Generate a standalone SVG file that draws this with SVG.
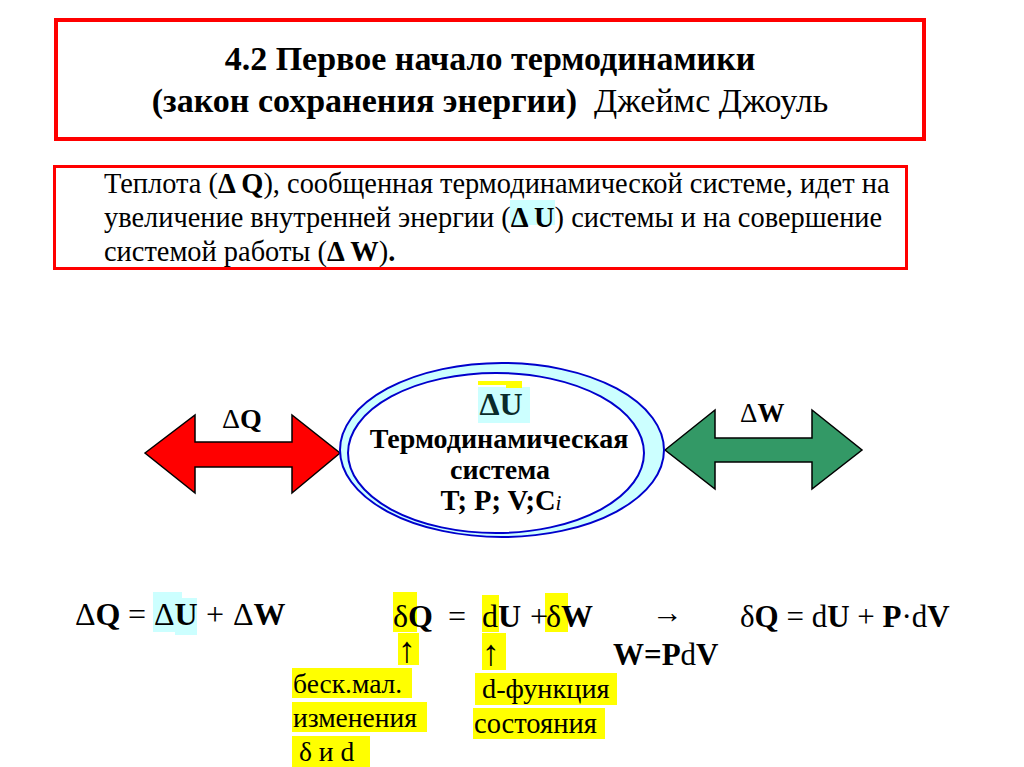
<svg xmlns="http://www.w3.org/2000/svg" width="1024" height="767" viewBox="0 0 1024 767">
<style>
.b{font-weight:bold}
.box{fill:none;stroke:#ff0000}
.hy{fill:#ffff00}
.hc{fill:#ccffff}
.arr{stroke:#000;stroke-width:1.5;stroke-linejoin:miter}
</style>
<rect width="1024" height="767" fill="#fff"/>
<g id="title">
<rect class="box" x="56" y="20" width="868" height="119" stroke-width="4"/>
<text font-family="Liberation Serif" x="490" y="70" font-size="34" text-anchor="middle" font-weight="bold">4.2 Первое начало термодинамики</text>
<text font-family="Liberation Serif" x="490" y="112" font-size="34" text-anchor="middle"><tspan font-family="Liberation Serif" font-weight="bold">(закон сохранения энергии)</tspan>&#160; Джеймс Джоуль</text>
</g>
<g id="statement">
<rect class="box" x="54.5" y="166.5" width="852" height="102" stroke-width="3"/>
<rect class="hc" x="510" y="200" width="45" height="25"/>
<text font-family="Liberation Serif" x="104" y="193" font-size="28.4">Теплота (<tspan font-family="Liberation Serif" font-weight="bold">Δ Q</tspan>), сообщенная термодинамической системе, идет на</text>
<text font-family="Liberation Serif" x="104" y="227" font-size="28.4">увеличение внутренней энергии (<tspan font-family="Liberation Serif" font-weight="bold">Δ U</tspan>) системы и на совершение</text>
<text font-family="Liberation Serif" x="104" y="261" font-size="28.4">системой работы (<tspan font-family="Liberation Serif" font-weight="bold">Δ W</tspan>)<tspan font-family="Liberation Serif" font-weight="bold">.</tspan></text>
</g>
<g id="connectors">
<polygon class="arr" fill="#ff0000" points="145,453 195,415 195,442 292,442 292,415 340,453 292,493 292,467 195,467 195,493"/>
<polygon class="arr" fill="#339966" points="665,450 715,410 715,438 812,438 812,410 862,450 812,489 812,462 715,462 715,489"/>
<text font-family="Liberation Serif" x="222" y="428" font-size="28">Δ<tspan font-family="Liberation Serif" font-weight="bold">Q</tspan></text>
<text font-family="Liberation Serif" x="740" y="422" font-size="27">Δ<tspan font-family="Liberation Serif" font-weight="bold">W</tspan></text>
</g>
<g id="system">
<ellipse cx="502" cy="450" rx="162" ry="87" fill="#ccffff" stroke="#0000cc" stroke-width="2"/>
<ellipse cx="496" cy="453" rx="148" ry="80" fill="#fff" stroke="#0000cc" stroke-width="2"/>
<rect class="hc" x="478" y="387" width="52" height="36"/>
<rect class="hy" x="478" y="381" width="28" height="4"/>
<rect class="hy" x="506" y="381" width="16" height="7"/>
<text font-family="Liberation Serif" x="501" y="415" font-size="32" text-anchor="middle" font-weight="bold" fill="#0a2a2a">ΔU</text>
<text font-family="Liberation Serif" x="499" y="448" font-size="28" text-anchor="middle" font-weight="bold">Термодинамическая</text>
<text font-family="Liberation Serif" x="500" y="479" font-size="28" text-anchor="middle" font-weight="bold">система</text>
<text font-family="Liberation Serif" x="501" y="510" font-size="28.5" text-anchor="middle" font-weight="bold">T; P; V;C<tspan font-family="Liberation Serif" font-style="italic" font-weight="normal" font-size="21">i</tspan></text>
</g>
<g id="eq1">
<rect class="hc" x="153" y="592" width="29" height="40"/>
<rect class="hc" x="175" y="598" width="22" height="37"/>
<text font-family="Liberation Serif" y="625" font-size="32"><tspan font-family="Liberation Serif" x="75">Δ</tspan><tspan font-family="Liberation Serif" font-weight="bold">Q</tspan><tspan font-family="Liberation Serif" x="128">=</tspan><tspan font-family="Liberation Serif" x="154">Δ</tspan><tspan font-family="Liberation Serif" font-weight="bold">U</tspan><tspan font-family="Liberation Serif" x="206">+</tspan><tspan font-family="Liberation Serif" x="233">Δ</tspan><tspan font-family="Liberation Serif" font-weight="bold">W</tspan></text>
</g>
<g id="eq2">
<rect class="hy" x="393" y="592" width="24" height="40"/>
<rect class="hy" x="482" y="595" width="17" height="37"/>
<rect class="hy" x="545" y="593" width="23" height="39"/>
<rect class="hy" x="398" y="633" width="21" height="32"/>
<rect class="hy" x="482" y="633" width="24" height="37"/>
<text font-family="Liberation Serif" y="627" font-size="32"><tspan font-family="Liberation Serif" x="393">δ</tspan><tspan font-family="Liberation Serif" font-weight="bold">Q</tspan><tspan font-family="Liberation Serif" x="448">=</tspan><tspan font-family="Liberation Serif" x="482">d</tspan><tspan font-family="Liberation Serif" font-weight="bold">U</tspan><tspan font-family="Liberation Serif" x="530">+</tspan><tspan font-family="Liberation Serif" x="546">δ</tspan><tspan font-family="Liberation Serif" font-weight="bold">W</tspan></text>
<text font-family="Liberation Serif" x="398" y="662" font-size="36">↑</text>
<text font-family="Liberation Serif" x="482" y="665" font-size="36">↑</text>
</g>
<g id="note1">
<rect class="hy" x="292" y="668" width="120" height="30"/>
<rect class="hy" x="292" y="702" width="135" height="30"/>
<rect class="hy" x="292" y="736" width="78" height="31"/>
<text font-family="Liberation Serif" x="293" y="693" font-size="27.5">беск.мал.</text>
<text font-family="Liberation Serif" x="293" y="727" font-size="27.5">изменения</text>
<text font-family="Liberation Serif" x="299" y="761" font-size="27.5">δ и d</text>
</g>
<g id="note2">
<rect class="hy" x="475" y="673" width="142" height="32"/>
<rect class="hy" x="473" y="708" width="132" height="31"/>
<text font-family="Liberation Serif" x="482" y="698" font-size="28.3">d-функция</text>
<text font-family="Liberation Serif" x="474" y="733" font-size="28.5">состояния</text>
</g>
<g id="eq3">
<text font-family="Liberation Serif" x="652" y="623" font-size="31">→</text>
<text font-family="Liberation Serif" x="740" y="627" font-size="31">δ<tspan font-family="Liberation Serif" font-weight="bold">Q</tspan> = d<tspan font-family="Liberation Serif" font-weight="bold">U</tspan> + <tspan font-family="Liberation Serif" font-weight="bold">P</tspan>·d<tspan font-family="Liberation Serif" font-weight="bold">V</tspan></text>
<text font-family="Liberation Serif" x="613" y="665" font-size="31"><tspan font-family="Liberation Serif" font-weight="bold">W=P</tspan>d<tspan font-family="Liberation Serif" font-weight="bold">V</tspan></text>
</g>
</svg>
